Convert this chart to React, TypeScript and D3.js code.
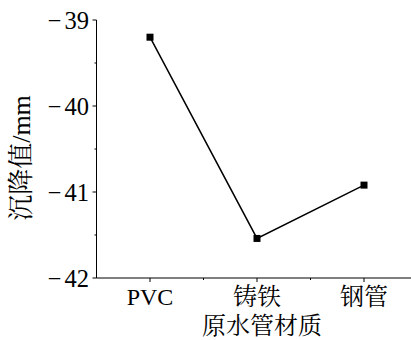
import React from "react";
import * as d3 from "d3";

const categories = ["PVC", "铸铁", "钢管"];
const values = [-39.2, -41.54, -40.92];
const yTicks = [-39, -40, -41, -42];
const yMinorTicks = [-39.5, -40.5, -41.5];
const xLabel = "原水管材质";
const yLabel = "沉降值/mm";

const W = 411;
const H = 340;
const serif = "'Liberation Serif', 'Times New Roman', 'Noto Serif CJK SC', 'Noto Sans CJK SC', serif";

export default function App() {
  const x = d3.scaleLinear().domain([0.5, 3.5]).range([96.5, 417.5]);
  const y = d3.scaleLinear().domain([-42, -39]).range([278, 20]);
  const pts = values.map((v, i) => [x(i + 1), y(v)] as [number, number]);
  const line = d3.line()(pts) || "";
  const x0 = x(0.5);
  const yb = y(-42);
  const xMinor = [1.5, 2.5];
  return (
    <svg width={W} height={H} style={{ position: "absolute", left: 0, top: 0, background: "#fff" }}>
      <line x1={x0} x2={x0} y1={y(-39)} y2={yb} stroke="#000" strokeWidth={1} />
      <line x1={x0} x2={W} y1={yb} y2={yb} stroke="#000" strokeWidth={1} />
      {yTicks.map((t) => (
        <g key={t}>
          <line x1={x0 - 4} x2={x0} y1={y(t)} y2={y(t)} stroke="#000" />
          <text x={89} y={y(t)} dy="0.35em" textAnchor="end" fontFamily={serif} fontSize={24.5}>
            <tspan>{"\u2212"}</tspan>
            <tspan dx={3}>{String(Math.abs(t))}</tspan>
          </text>
        </g>
      ))}
      {yMinorTicks.map((t) => (
        <line key={t} x1={x0 - 2} x2={x0} y1={y(t)} y2={y(t)} stroke="#000" />
      ))}
      {categories.map((c, i) => (
        <g key={c}>
          <line x1={x(i + 1)} x2={x(i + 1)} y1={yb} y2={yb + 4} stroke="#000" />
          <text x={x(i + 1)} y={305} textAnchor="middle" fontFamily={serif} fontSize={24}>
            {c}
          </text>
        </g>
      ))}
      {xMinor.map((t) => (
        <line key={t} x1={x(t)} x2={x(t)} y1={yb} y2={yb + 2} stroke="#000" />
      ))}
      <text x={262} y={334} textAnchor="middle" fontFamily={serif} fontSize={24}>
        {xLabel}
      </text>
      <text
        transform={`translate(30, 158) rotate(-90)`}
        textAnchor="middle"
        fontFamily={serif}
        fontSize={26}
      >
        {yLabel}
      </text>
      <path d={line} fill="none" stroke="#000" strokeWidth={1.5} />
      {pts.map((p, i) => (
        <rect key={i} x={p[0] - 3.5} y={p[1] - 3.5} width={7} height={7} fill="#000" />
      ))}
    </svg>
  );
}
